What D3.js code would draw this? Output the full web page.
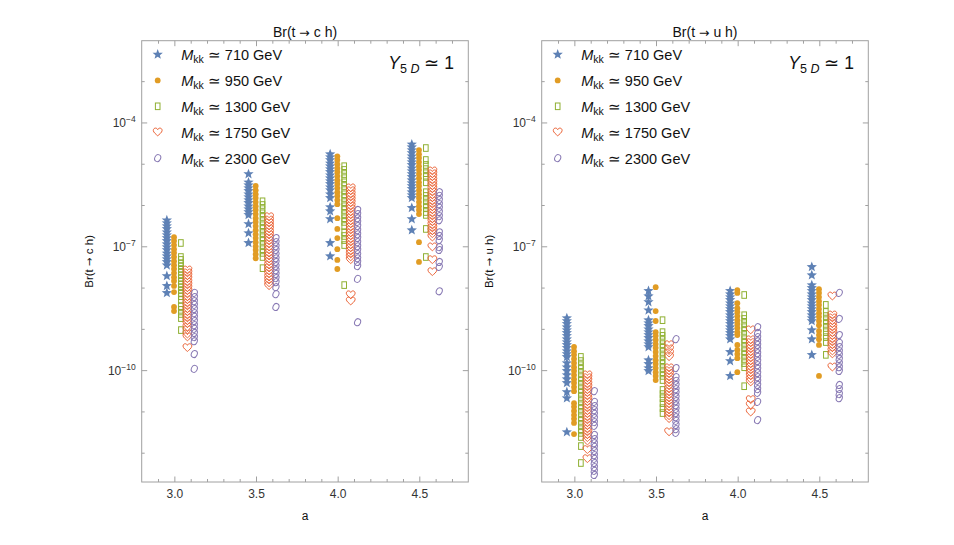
<!DOCTYPE html>
<html><head><meta charset="utf-8">
<script src="https://cdn.jsdelivr.net/npm/d3@7"></script>
<style>body{margin:0;background:#fff} svg{display:block} text{font-family:"Liberation Sans",Arial,Helvetica,sans-serif}</style>
</head><body><svg id="c" width="954" height="545"></svg>
<script>
// ---- categories / labels ----
const aValues = [3.0, 3.5, 4.0, 4.5];
const masses = [710, 950, 1300, 1750, 2300];
const aShift = [-0.046, -0.002, 0.04, 0.08, 0.122];   // horizontal shift of each mass series around a
const xTicksMajor = [3.0, 3.5, 4.0, 4.5];
const xTicksMinor = [2.9, 3.1, 3.2, 3.3, 3.4, 3.6, 3.7, 3.8, 3.9, 4.1, 4.2, 4.3, 4.4, 4.6, 4.7];
const yTickLabelExp = [-4, -7, -10];
const yTickExp = [-3, -4, -5, -6, -7, -8, -9, -10, -11, -12];
const quarks = ["c", "u"];   // titles: Br(t → q h)

// ---- data: log10 Br, one list per a value (3.0, 3.5, 4.0, 4.5) ----
const ch_710 = [
 [-6.37,-6.44,-6.51,-6.58,-6.66,-6.73,-6.80,-6.87,-6.95,-7.02,-7.09,-7.17,-7.24,-7.31,-7.38,-7.46,-7.72,-7.96,-8.13],
 [-5.25,-5.45,-5.52,-5.59,-5.66,-5.74,-5.81,-5.88,-5.95,-6.03,-6.10,-6.17,-6.24,-6.46,-6.68,-6.92],
 [-4.77,-4.84,-4.91,-4.99,-5.06,-5.13,-5.20,-5.28,-5.35,-5.42,-5.49,-5.57,-5.64,-5.74,-5.83,-6.05,-6.15,-6.34,-6.92,-7.24],
 [-4.53,-4.60,-4.67,-4.74,-4.82,-4.89,-4.96,-5.03,-5.11,-5.18,-5.25,-5.32,-5.40,-5.47,-5.54,-5.61,-5.69,-5.76,-5.83,-6.07,-6.34,-6.61]];
const ch_950 = [
 [-6.78,-6.87,-6.97,-7.07,-7.16,-7.26,-7.36,-7.46,-7.55,-7.65,-7.75,-7.84,-7.96,-8.11,-8.47,-8.57],
 [-5.54,-5.64,-5.74,-5.83,-5.93,-6.03,-6.12,-6.22,-6.32,-6.41,-6.51,-6.61,-6.71,-6.80,-6.90,-7.00,-7.09,-7.19,-7.29],
 [-4.82,-4.91,-5.01,-5.11,-5.20,-5.30,-5.40,-5.49,-5.59,-5.69,-5.78,-5.88,-5.98,-6.32,-6.58,-6.80,-7.07,-7.33,-7.55],
 [-4.67,-4.77,-4.86,-4.96,-5.06,-5.15,-5.25,-5.35,-5.45,-5.54,-5.64,-5.74,-5.83,-5.93,-6.03,-6.12,-6.22,-6.90,-7.38]];
const ch_1300 = [
 [-6.92,-7.26,-7.33,-7.41,-7.48,-7.55,-7.62,-7.70,-7.77,-7.84,-7.92,-7.99,-8.06,-8.13,-8.21,-8.30,-8.45,-8.54,-8.64,-8.74,-9.03],
 [-5.91,-6.00,-6.10,-6.20,-6.29,-6.39,-6.49,-6.58,-6.68,-6.78,-6.87,-6.97,-7.07,-7.16,-7.26,-7.53],
 [-5.06,-5.15,-5.25,-5.35,-5.45,-5.54,-5.64,-5.74,-5.83,-5.93,-6.03,-6.12,-6.22,-6.32,-6.41,-6.51,-6.66,-6.75,-6.85,-6.97,-7.94],
 [-4.62,-4.91,-5.03,-5.13,-5.23,-5.32,-5.45,-5.69,-5.78,-5.88,-5.98,-6.07,-6.17,-6.24,-6.58,-7.26]];
const ch_1750 = [
 [-7.58,-7.65,-7.72,-7.79,-7.87,-7.94,-8.01,-8.08,-8.16,-8.23,-8.30,-8.38,-8.45,-8.52,-8.59,-8.67,-8.74,-8.81,-8.88,-8.96,-9.03,-9.13,-9.20,-9.46],
 [-6.29,-6.37,-6.44,-6.51,-6.58,-6.66,-6.73,-6.80,-6.87,-6.95,-7.02,-7.09,-7.17,-7.24,-7.31,-7.38,-7.46,-7.53,-7.60,-7.67,-7.75,-7.82,-7.89,-7.96],
 [-5.59,-5.66,-5.74,-5.81,-5.88,-5.95,-6.03,-6.10,-6.17,-6.24,-6.32,-6.39,-6.46,-6.54,-6.61,-6.68,-6.75,-6.83,-6.90,-6.97,-7.04,-7.12,-7.19,-7.26,-7.33,-8.18,-8.33],
 [-5.18,-5.25,-5.32,-5.40,-5.47,-5.54,-5.61,-5.69,-5.76,-5.83,-5.91,-5.98,-6.05,-6.12,-6.20,-6.27,-6.34,-6.41,-6.49,-6.56,-6.63,-6.70,-6.78,-7.02,-7.33,-7.62]];
const ch_2300 = [
 [-8.13,-8.23,-8.33,-8.42,-8.52,-8.62,-8.71,-8.81,-8.91,-9.00,-9.10,-9.20,-9.30,-9.61,-9.97],
 [-6.80,-6.90,-7.00,-7.09,-7.19,-7.29,-7.38,-7.48,-7.58,-7.67,-7.77,-7.87,-7.99,-8.16,-8.47],
 [-6.12,-6.22,-6.32,-6.41,-6.51,-6.61,-6.71,-6.80,-6.90,-7.00,-7.09,-7.19,-7.29,-7.38,-7.48,-7.79,-8.84],
 [-5.69,-5.78,-5.88,-5.98,-6.07,-6.17,-6.27,-6.37,-6.66,-6.75,-6.85,-7.02,-7.09,-7.38,-7.50,-8.09]];

const uh_710 = [
 [-8.74,-8.81,-8.88,-8.96,-9.03,-9.10,-9.17,-9.25,-9.32,-9.39,-9.46,-9.54,-9.61,-9.68,-9.83,-9.93,-10.02,-10.12,-10.22,-10.31,-10.53,-10.68,-11.50],
 [-8.08,-8.21,-8.35,-8.55,-8.79,-8.86,-8.93,-9.01,-9.08,-9.15,-9.22,-9.30,-9.37,-9.44,-9.76,-9.85,-9.95,-10.02],
 [-8.08,-8.16,-8.23,-8.30,-8.38,-8.45,-8.52,-8.59,-8.67,-8.74,-8.81,-8.88,-8.96,-9.03,-9.10,-9.17,-9.25,-9.56,-9.78,-10.14],
 [-7.50,-7.70,-7.94,-8.01,-8.08,-8.16,-8.23,-8.30,-8.38,-8.45,-8.52,-8.59,-8.67,-8.74,-8.81,-9.03,-9.25,-9.63]];
const uh_950 = [
 [-9.44,-9.54,-9.63,-9.73,-9.83,-9.93,-10.02,-10.12,-10.22,-10.31,-10.41,-10.51,-10.80,-10.89,-10.99,-11.09,-11.18,-11.28,-11.55],
 [-7.99,-8.57,-8.81,-9.08,-9.17,-9.27,-9.37,-9.46,-9.56,-9.66,-9.76,-9.85,-9.95,-10.05,-10.14,-10.24],
 [-8.06,-8.13,-8.38,-8.50,-8.59,-8.69,-8.79,-8.88,-8.98,-9.08,-9.15,-9.39,-9.51,-9.61,-9.71,-10.05],
 [-8.04,-8.13,-8.23,-8.33,-8.42,-8.52,-8.62,-8.71,-8.81,-8.91,-9.05,-9.15,-9.25,-9.39,-10.14]];
const uh_1300 = [
 [-9.68,-9.78,-9.88,-9.97,-10.07,-10.17,-10.26,-10.36,-10.46,-10.55,-10.65,-10.75,-10.85,-10.94,-11.04,-11.14,-11.23,-11.33,-11.43,-11.52,-11.62,-11.84,-12.25],
 [-8.79,-9.08,-9.17,-9.27,-9.37,-9.46,-9.56,-9.66,-9.76,-9.85,-9.95,-10.05,-10.14,-10.24,-10.48,-10.58,-10.68,-10.80,-10.92,-11.04],
 [-8.18,-8.67,-8.76,-8.86,-8.96,-9.05,-9.15,-9.25,-9.34,-9.44,-9.54,-9.63,-9.73,-9.83,-9.93,-10.39],
 [-8.42,-8.59,-8.69,-8.79,-8.88,-8.98,-9.08,-9.20,-9.32,-9.63]];
const uh_1750 = [
 [-10.12,-10.19,-10.26,-10.34,-10.41,-10.48,-10.55,-10.63,-10.70,-10.77,-10.85,-10.92,-10.99,-11.06,-11.14,-11.21,-11.28,-11.35,-11.43,-11.50,-11.57,-11.64,-11.72,-11.93,-12.15],
 [-9.39,-9.49,-9.59,-9.68,-9.95,-10.02,-10.09,-10.17,-10.24,-10.31,-10.38,-10.46,-10.53,-10.60,-10.68,-10.75,-10.82,-10.89,-10.97,-11.04,-11.11,-11.18,-11.50],
 [-9.03,-9.27,-9.34,-9.42,-9.49,-9.56,-9.63,-9.71,-9.78,-9.85,-9.93,-10.00,-10.07,-10.14,-10.22,-10.29,-10.72,-10.85,-11.02],
 [-8.21,-8.67,-8.74,-8.81,-8.88,-8.96,-9.03,-9.10,-9.17,-9.25,-9.32,-9.39,-9.46,-9.54,-9.61,-9.93]];
const uh_2300 = [
 [-10.51,-10.77,-10.87,-10.97,-11.06,-11.16,-11.26,-11.35,-11.57,-11.67,-11.77,-11.86,-11.96,-12.06,-12.15,-12.25,-12.35,-12.44,-12.54],
 [-9.25,-9.95,-10.17,-10.26,-10.36,-10.46,-10.55,-10.65,-10.75,-10.85,-10.94,-11.04,-11.14,-11.23,-11.33,-11.43,-11.52],
 [-8.96,-9.10,-9.20,-9.30,-9.39,-9.49,-9.59,-9.68,-9.78,-9.88,-9.97,-10.07,-10.17,-10.26,-10.36,-10.46,-10.55,-10.77,-11.21],
 [-8.13,-8.76,-9.15,-9.34,-9.44,-9.54,-9.63,-9.73,-9.83,-9.93,-10.02,-10.36,-10.46,-10.58,-10.68]];

// ---- styling ----
const colors = ["#5E81B5", "#E19C24", "#8FB032", "#EB6235", "#8778B3"];
const markerTypes = ["star", "dot", "rect", "heart", "oval"];
const svg = d3.select("#c");
const frameColor = "#a0a0a0";
const textColor = "#333";

function starPath(R, r) {
  const pts = [];
  for (let i = 0; i < 10; i++) {
    const ang = -Math.PI / 2 + i * Math.PI / 5;
    const rr = i % 2 === 0 ? R : r;
    pts.push([rr * Math.cos(ang), rr * Math.sin(ang)]);
  }
  return "M" + pts.map(p => p[0].toFixed(2) + "," + p[1].toFixed(2)).join("L") + "Z";
}
const STAR = starPath(5.4, 2.3);
const HEART = "M0,3.6 C-1.2,2.5 -4.4,0.2 -4.4,-1.7 C-4.4,-3.4 -3.2,-4.1 -2.2,-4.1 C-1.1,-4.1 -0.3,-3.4 0,-2.5 C0.3,-3.4 1.1,-4.1 2.2,-4.1 C3.2,-4.1 4.4,-3.4 4.4,-1.7 C4.4,0.2 1.2,2.5 0,3.6 Z";

function marker(g, type, cx, cy, color) {
  const t = `translate(${cx},${cy})`;
  if (type === "star") g.append("path").attr("d", STAR).attr("transform", t).attr("fill", color);
  else if (type === "dot") g.append("circle").attr("cx", cx).attr("cy", cy).attr("r", 2.9).attr("fill", color);
  else if (type === "rect") g.append("rect").attr("x", cx - 2.3).attr("y", cy - 3.3).attr("width", 4.6).attr("height", 6.6)
        .attr("fill", "none").attr("stroke", color).attr("stroke-width", 1);
  else if (type === "heart") g.append("path").attr("d", HEART).attr("transform", t)
        .attr("fill", "none").attr("stroke", color).attr("stroke-width", 1);
  else if (type === "oval") g.append("ellipse").attr("rx", 2.9).attr("ry", 3.6)
        .attr("transform", t + " rotate(25)").attr("fill", "none").attr("stroke", color).attr("stroke-width", 1);
}
function brLabel(textSel, q) {
  textSel.append("tspan").text("Br(t ");
  textSel.append("tspan").style("font-family", '"DejaVu Sans",sans-serif').style("font-size", "0.9em").text("\u2192");
  textSel.append("tspan").text(" " + q + " h)");
}

const plotTop = 40.7, plotBottom = 482, pw = 326.6;
const panels = [
  { x0: 141.7, q: quarks[0], data: [ch_710, ch_950, ch_1300, ch_1750, ch_2300] },
  { x0: 541.7, q: quarks[1], data: [uh_710, uh_950, uh_1300, uh_1750, uh_2300] }
];

panels.forEach(p => {
  const x = d3.scaleLinear().domain([2.8, 4.8]).range([p.x0, p.x0 + pw]);
  const y = d3.scaleLog().domain([Math.pow(10, -12.71), Math.pow(10, -2.02)]).range([plotBottom, plotTop]);
  const g = svg.append("g");

  g.append("rect").attr("x", p.x0).attr("y", plotTop).attr("width", pw).attr("height", plotBottom - plotTop)
    .attr("fill", "none").attr("stroke", frameColor).attr("stroke-width", 1);

  function styleAxis(sel) {
    sel.select(".domain").remove();
    sel.selectAll("line").attr("stroke", frameColor);
    sel.selectAll("text").attr("fill", textColor).style("font-size", "12px")
      .style("font-family", '"Liberation Sans",Arial,sans-serif');
  }
  const xb = g.append("g").attr("transform", `translate(0,${plotBottom})`)
    .call(d3.axisBottom(x).tickValues(xTicksMajor).tickSize(-5.5).tickPadding(10).tickFormat(d3.format(".1f")))
    .call(styleAxis);
  xb.selectAll("text").attr("dy", null).attr("y", 15.5);
  g.append("g").attr("transform", `translate(0,${plotBottom})`)
    .call(d3.axisBottom(x).tickValues(xTicksMinor).tickSize(-3).tickFormat("")).call(styleAxis);
  g.append("g").attr("transform", `translate(0,${plotTop})`)
    .call(d3.axisTop(x).tickValues(xTicksMajor).tickSize(-5.5).tickFormat("")).call(styleAxis);
  g.append("g").attr("transform", `translate(0,${plotTop})`)
    .call(d3.axisTop(x).tickValues(xTicksMinor).tickSize(-3).tickFormat("")).call(styleAxis);

  const yMajor = yTickLabelExp.map(e => Math.pow(10, e));
  const yMinor = yTickExp.filter(e => !yTickLabelExp.includes(e)).map(e => Math.pow(10, e));
  const ya = g.append("g").attr("transform", `translate(${p.x0},0)`)
    .call(d3.axisLeft(y).tickValues(yMajor).tickSize(-5.5).tickPadding(6).tickFormat(() => ""))
    .call(styleAxis);
  ya.selectAll(".tick text").each(function(d) {
    const t = d3.select(this).attr("dy", "0.35em").attr("x", -6);
    const e = Math.round(Math.log10(d));
    t.append("tspan").text("10");
    t.append("tspan").attr("dy", -5).style("font-size", "8.5px").text("\u2212" + Math.abs(e));
  });
  g.append("g").attr("transform", `translate(${p.x0},0)`)
    .call(d3.axisLeft(y).tickValues(yMinor).tickSize(-3).tickFormat("")).call(styleAxis);
  g.append("g").attr("transform", `translate(${p.x0 + pw},0)`)
    .call(d3.axisRight(y).tickValues(yMajor).tickSize(-5.5).tickFormat("")).call(styleAxis);
  g.append("g").attr("transform", `translate(${p.x0 + pw},0)`)
    .call(d3.axisRight(y).tickValues(yMinor).tickSize(-3).tickFormat("")).call(styleAxis);

  const cx = p.x0 + pw / 2;
  brLabel(g.append("text").attr("x", cx).attr("y", 36.5).attr("text-anchor", "middle")
    .style("font-size", "14px").attr("fill", "#111"), p.q);
  g.append("text").attr("x", cx).attr("y", 520).attr("text-anchor", "middle")
    .style("font-size", "12px").attr("fill", "#111").text("a");
  brLabel(g.append("text").attr("transform", `translate(${p.x0 - 49},${(plotTop + plotBottom) / 2}) rotate(-90)`)
    .attr("text-anchor", "middle").style("font-size", "11.5px").attr("fill", "#111"), p.q);

  const dg = g.append("g");
  p.data.forEach((series, si) => {
    series.forEach((vals, ai) => {
      vals.forEach(v => marker(dg, markerTypes[si], x(aValues[ai] + aShift[si]), y(Math.pow(10, v)), colors[si]));
    });
  });

  const lg = g.append("g");
  masses.forEach((m, i) => {
    const ly = 60 + i * 25.9;
    marker(lg, markerTypes[i], p.x0 + 16, ly - 5.5, colors[i]);
    const t = lg.append("text").attr("x", p.x0 + 39.5).attr("y", ly).style("font-size", "14.5px").attr("fill", "#111");
    t.append("tspan").style("font-style", "italic").text("M");
    t.append("tspan").attr("dy", 3).style("font-size", "10.5px").text("kk");
    t.append("tspan").attr("dy", -3).text(" \u2243 " + m + " GeV");
  });
  const yt = lg.append("text").attr("x", p.x0 + pw - 80).attr("y", 68.5).style("font-size", "17.5px").attr("fill", "#111");
  yt.append("tspan").style("font-style", "italic").text("Y");
  yt.append("tspan").attr("dy", 4).style("font-size", "12.5px").text("5 ");
  yt.append("tspan").style("font-size", "12.5px").style("font-style", "italic").text("D");
  yt.append("tspan").attr("dy", -4).text(" \u2243 1");
});
</script></body></html>
